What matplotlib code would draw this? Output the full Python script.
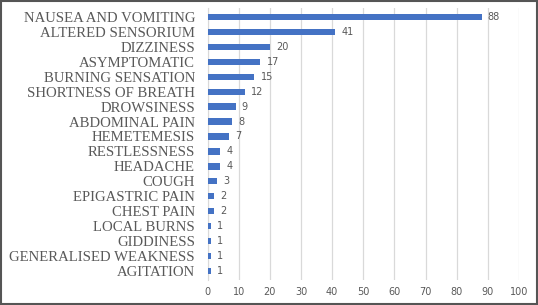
import matplotlib
matplotlib.use("Agg")
import matplotlib.pyplot as plt
from matplotlib.patches import Rectangle

categories = ["NAUSEA AND VOMITING", "ALTERED SENSORIUM", "DIZZINESS", "ASYMPTOMATIC",
              "BURNING SENSATION", "SHORTNESS OF BREATH", "DROWSINESS", "ABDOMINAL PAIN",
              "HEMETEMESIS", "RESTLESSNESS", "HEADACHE", "COUGH", "EPIGASTRIC PAIN",
              "CHEST PAIN", "LOCAL BURNS", "GIDDINESS", "GENERALISED WEAKNESS", "AGITATION"]
values = [88, 41, 20, 17, 15, 12, 9, 8, 7, 4, 4, 3, 2, 2, 1, 1, 1, 1]
xticks = [0, 10, 20, 30, 40, 50, 60, 70, 80, 90, 100]

fig = plt.figure(figsize=(5.38, 3.05), dpi=100)
ax = fig.add_axes([0.3857, 0.082, 0.9647 - 0.3857, 0.974 - 0.082])

pos = list(range(len(categories)))[::-1]
ax.barh(pos, values, height=0.42, color="#4472C4", zorder=3)
for p, v in zip(pos, values):
    ax.text(v + 2.0, p, str(v), va="center", ha="left", fontsize=7, color="#595959",
            family="DejaVu Sans")

ax.set_xlim(0, 100)
ax.set_ylim(-0.6, len(categories) - 0.4)
ax.set_xticks(xticks)
ax.set_xticklabels([str(t) for t in xticks], fontsize=7, color="#595959")
ax.set_yticks(pos)
ax.set_yticklabels(categories, fontsize=10.6, color="#595959", family="Liberation Serif")
ax.tick_params(axis="both", length=0)
ax.tick_params(axis="y", pad=9)
ax.tick_params(axis="x", pad=5)
ax.grid(axis="x", color="#d9d9d9", linewidth=0.9, zorder=0)
for s in ["top", "right", "bottom"]:
    ax.spines[s].set_visible(False)
ax.spines["left"].set_color("#d9d9d9")

fig.patches.append(Rectangle((0.002, 0.003), 0.996, 0.994, transform=fig.transFigure,
                             fill=False, edgecolor="#555555", linewidth=1.5))
fig.savefig("out.png", dpi=100)
